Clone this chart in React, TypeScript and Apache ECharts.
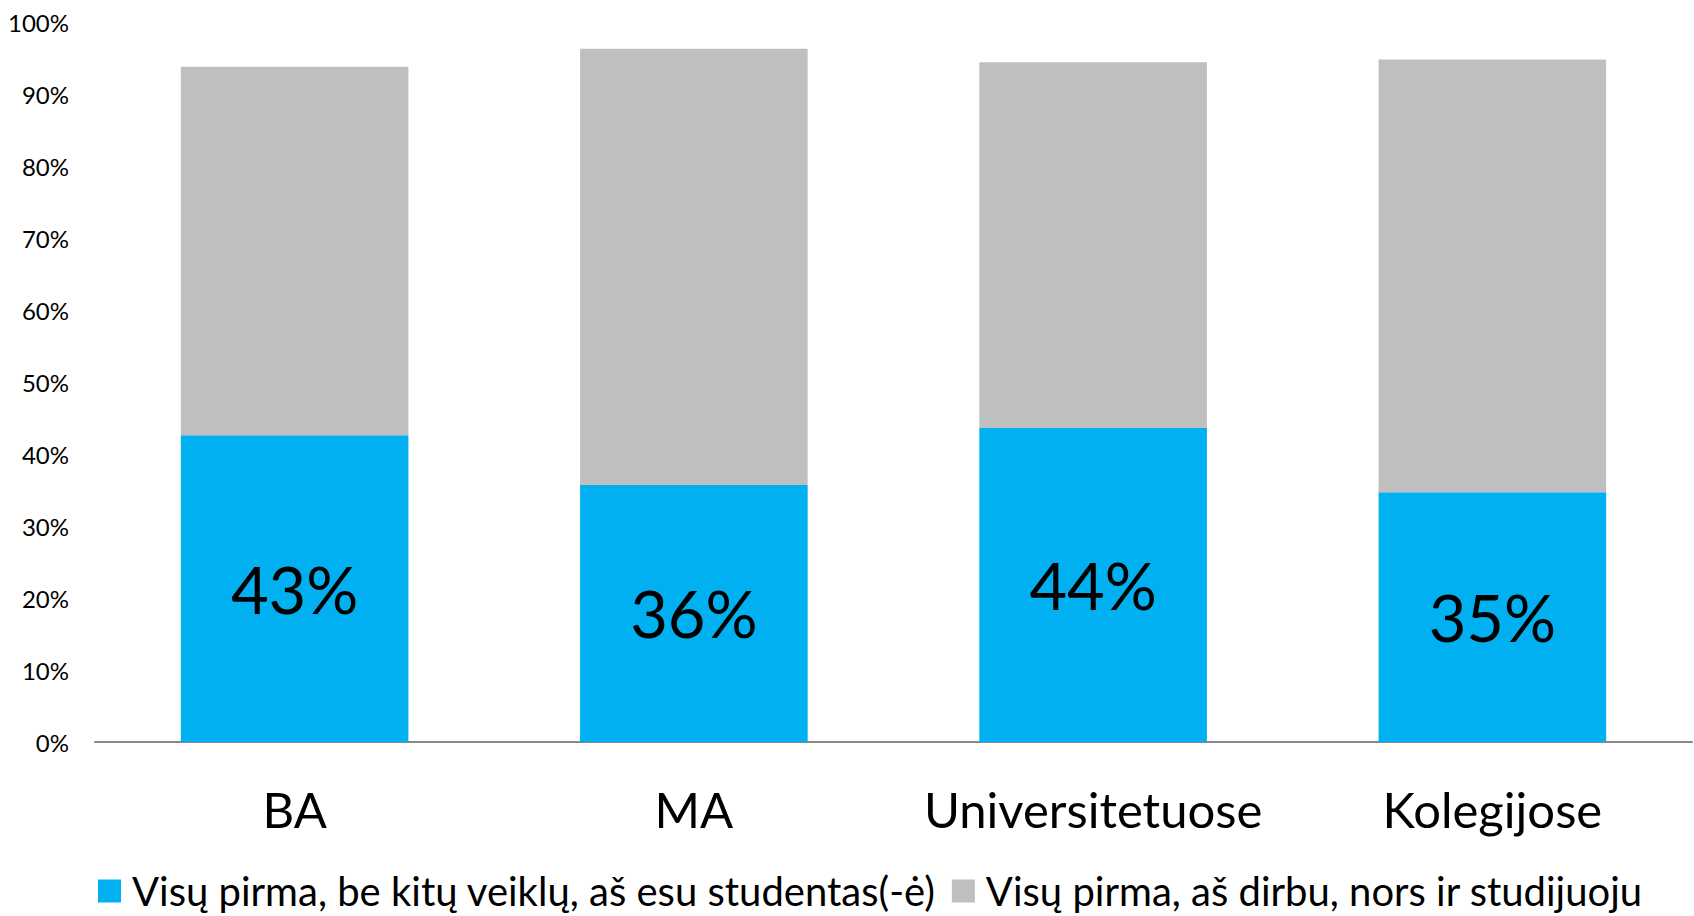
import React, { useEffect, useRef } from "react";
import * as echarts from "echarts";

const categories = ["BA", "MA", "Universitetuose", "Kolegijose"];
const studentFirst = [0.426, 0.357, 0.436, 0.347];
const workFirst = [0.512, 0.606, 0.508, 0.601];
const seriesNames = [
  "Visų pirma, be kitų veiklų, aš esu studentas(-ė)",
  "Visų pirma, aš dirbu, nors ir studijuoju",
];

const FONT = "Lato";

export default function App() {
  const ref = useRef<HTMLDivElement>(null);
  useEffect(() => {
    if (!ref.current) return;
    const chart = echarts.init(ref.current, undefined, { renderer: "svg" });
    chart.setOption({
      animation: false,
      textStyle: { fontFamily: FONT },
      grid: { left: 95, right: 2, top: 22, bottom: 174, containLabel: false },
      legend: {
        top: 866,
        left: 93,
        itemWidth: 23,
        itemHeight: 23,
        itemGap: 16,
        icon: "rect",
        textStyle: { fontFamily: FONT, fontSize: 40, color: "#000", padding: [0, 0, 0, 6] },
        data: seriesNames,
      },
      xAxis: {
        type: "category",
        data: categories,
        axisLine: { lineStyle: { color: "#888888", width: 2 } },
        axisTick: { show: false },
        axisLabel: { interval: 0, fontFamily: FONT, fontSize: 49, color: "#000", margin: 42 },
      },
      yAxis: {
        type: "value",
        min: 0,
        max: 1,
        interval: 0.1,
        splitLine: { show: false },
        axisLine: { show: false },
        axisTick: { show: false },
        axisLabel: {
          fontFamily: FONT,
          fontSize: 24,
          color: "#000",
          margin: 26,
          formatter: (v: number) => Math.round(v * 100) + "%",
        },
      },
      series: [
        {
          name: seriesNames[0],
          type: "bar",
          stack: "total",
          barWidth: "57%",
          data: studentFirst,
          itemStyle: { color: "#00B0F0" },
          label: {
            show: true,
            position: "inside",
            fontFamily: FONT,
            fontSize: 65,
            color: "#000",
            formatter: (p: any) => Math.round(p.value * 100) + "%",
          },
        },
        {
          name: seriesNames[1],
          type: "bar",
          stack: "total",
          barWidth: "57%",
          data: workFirst,
          itemStyle: { color: "#BFBFBF" },
        },
      ],
    });
    return () => chart.dispose();
  }, []);
  return (
    <div
      ref={ref}
      style={{ position: "fixed", left: 0, top: 0, width: 1694, height: 916, background: "#fff" }}
    />
  );
}
